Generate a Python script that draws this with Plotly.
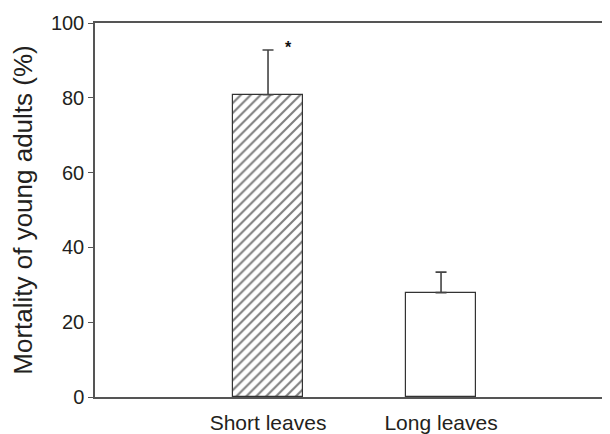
import plotly.graph_objects as go

categories = ["Short leaves", "Long leaves"]
mortality = [80.8, 27.9]
sem = [12.0, 5.5]
y_ticks = [0, 20, 40, 60, 80, 100]
significance = ["*", ""]

fig = go.Figure()
fig.add_trace(go.Bar(
    x=[0], y=[mortality[0]], width=0.405,
    marker=dict(color="white", line=dict(color="#333333", width=1.2),
                pattern=dict(shape="/", fgcolor="#000000", bgcolor="white", size=7, solidity=0.3)),
    error_y=dict(type="data", array=[sem[0]], arrayminus=[0], symmetric=False,
                 color="#444444", thickness=1.6, width=5.5),
    showlegend=False,
))
fig.add_trace(go.Bar(
    x=[1], y=[mortality[1]], width=0.405,
    marker=dict(color="white", line=dict(color="#333333", width=1.2)),
    error_y=dict(type="data", array=[sem[1]], arrayminus=[0], symmetric=False,
                 color="#444444", thickness=1.6, width=5.5),
    showlegend=False,
))

fig.add_annotation(x=0, y=mortality[0] + sem[0] + 0.6, text="<b>" + significance[0] + "</b>",
                   xref="x", yref="y", showarrow=False, xshift=20,
                   font=dict(size=16, color="#111111", family="Liberation Sans"))

# page body has an 8px default margin, so the figure is sized to fit the window
fig.update_layout(
    width=602, height=426,
    margin=dict(l=87, r=2, t=15, b=37, autoexpand=False),
    plot_bgcolor="white", paper_bgcolor="white",
    font=dict(family="Liberation Sans, Arial, sans-serif", color="#231f20"),
    bargap=0,
)
fig.update_xaxes(
    range=[-1.0, 1.965], tickvals=[0, 1], ticktext=categories,
    showline=True, linecolor="#555555", linewidth=1.5, mirror=True,
    ticks="outside", ticklen=6, tickcolor="rgba(0,0,0,0)",
    tickfont=dict(size=21), showgrid=False, zeroline=False, automargin=False,
)
fig.update_yaxes(
    range=[0, 100], tickvals=y_ticks,
    showline=True, linecolor="#555555", linewidth=1.5, mirror=False,
    ticks="outside", ticklen=5, tickcolor="#555555", tickwidth=1.2,
    tickfont=dict(size=20), showgrid=False, zeroline=False, automargin=False,
    title=dict(text="Mortality of young adults (%)", font=dict(size=26), standoff=14),
)

fig.write_html("out.html")
